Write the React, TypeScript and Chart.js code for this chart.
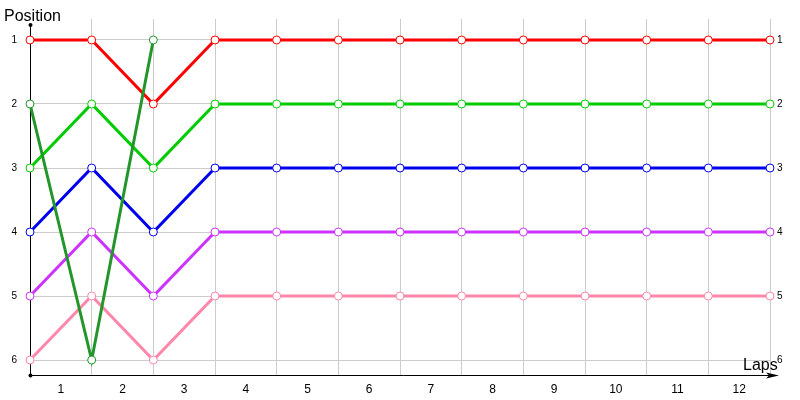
import React, { useRef, useEffect } from "react";
import { Chart, registerables } from "chart.js";

Chart.register(...registerables);

// lap boundaries where the positions are recorded (0 = start)
const laps = [0, 1, 2, 3, 4, 5, 6, 7, 8, 9, 10, 11, 12];
const lapLabels = ["1", "2", "3", "4", "5", "6", "7", "8", "9", "10", "11", "12"];
const positionTicks = [1, 2, 3, 4, 5, 6];

const redPos = [1, 1, 2, 1, 1, 1, 1, 1, 1, 1, 1, 1, 1];
const greenPos = [3, 2, 3, 2, 2, 2, 2, 2, 2, 2, 2, 2, 2];
const bluePos = [4, 3, 4, 3, 3, 3, 3, 3, 3, 3, 3, 3, 3];
const purplePos = [5, 4, 5, 4, 4, 4, 4, 4, 4, 4, 4, 4, 4];
const pinkPos = [6, 5, 6, 5, 5, 5, 5, 5, 5, 5, 5, 5, 5];
const darkGreenPos = [2, 6, 1];

const FONT = "'Liberation Sans', Arial, sans-serif";

const toPoints = (arr) => arr.map((y, i) => ({ x: laps[i], y }));

const line = (label, color, values) => ({
  label,
  data: toPoints(values),
  borderColor: color,
  borderWidth: 3,
  pointRadius: 4,
  pointHoverRadius: 4,
  pointBorderWidth: 1,
  pointBorderColor: color,
  pointBackgroundColor: "#ffffff",
  tension: 0,
  clip: false,
});

const axesPlugin = {
  id: "axesDecor",
  beforeDatasetsDraw(chart) {
    const { ctx, chartArea } = chart;
    const x0 = Math.round(chartArea.left) + 0.5;
    const y0 = Math.round(chartArea.bottom) + 0.5;
    ctx.save();
    ctx.strokeStyle = "#000";
    ctx.fillStyle = "#000";
    ctx.lineWidth = 1;
    ctx.beginPath();
    ctx.moveTo(x0, 25);
    ctx.lineTo(x0, y0);
    ctx.lineTo(776, y0);
    ctx.stroke();
    // arrow head
    ctx.beginPath();
    ctx.moveTo(779, y0);
    ctx.lineTo(766, y0 - 3);
    ctx.lineTo(769, y0);
    ctx.lineTo(766, y0 + 3);
    ctx.closePath();
    ctx.fill();
    ctx.beginPath();
    ctx.arc(x0, 25, 2, 0, Math.PI * 2);
    ctx.fill();
    ctx.beginPath();
    ctx.arc(x0, y0, 2, 0, Math.PI * 2);
    ctx.fill();
    ctx.restore();
  },
  afterDraw(chart) {
    const { ctx } = chart;
    ctx.save();
    ctx.fillStyle = "#000";
    ctx.font = `16px ${FONT}`;
    ctx.textBaseline = "alphabetic";
    ctx.fillText("Position", 4, 21);
    ctx.fillText("Laps", 743, 370);
    ctx.restore();
  },
};

const App = () => {
  const canvasRef = useRef(null);

  useEffect(() => {
    const chart = new Chart(canvasRef.current, {
      type: "line",
      data: {
        datasets: [
          line("Driver 6", "#22962a", darkGreenPos),
          line("Driver 1", "#ff0000", redPos),
          line("Driver 2", "#00cc00", greenPos),
          line("Driver 3", "#0000ee", bluePos),
          line("Driver 4", "#cc33ff", purplePos),
          line("Driver 5", "#ff88aa", pinkPos),
        ],
      },
      plugins: [axesPlugin],
      options: {
        responsive: false,
        animation: false,
        events: [],
        layout: { padding: { top: 19, left: 0, right: 0, bottom: 0 } },
        plugins: {
          legend: { display: false },
          tooltip: { enabled: false },
        },
        scales: {
          x: {
            type: "linear",
            min: 0,
            max: 12,
            afterBuildTicks: (scale) => {
              const t = [];
              for (let v = 0; v <= 12; v += 0.5) t.push({ value: v });
              scale.ticks = t;
            },
            afterFit: (scale) => {
              scale.height = 25;
            },
            ticks: {
              autoSkip: false,
              maxRotation: 0,
              padding: 7,
              color: "#000",
              font: { family: FONT, size: 12 },
              callback: (v) => (v % 1 === 0.5 ? lapLabels[Math.floor(v)] : ""),
            },
            grid: {
              drawTicks: false,
              color: (c) =>
                c.tick && c.tick.value % 1 === 0 && c.tick.value !== 0 ? "#cccccc" : "rgba(0,0,0,0)",
            },
            border: { display: false },
          },
          y: {
            type: "linear",
            reverse: true,
            min: 0.672,
            max: 6.234,
            afterBuildTicks: (scale) => {
              scale.ticks = positionTicks.map((v) => ({ value: v }));
            },
            afterFit: (scale) => {
              scale.width = 30;
            },
            ticks: {
              padding: 13,
              color: "#000",
              font: { family: FONT, size: 10 },
            },
            grid: { drawTicks: false, color: "#cccccc" },
            border: { display: false },
          },
          y2: {
            type: "linear",
            position: "right",
            reverse: true,
            min: 0.672,
            max: 6.234,
            afterBuildTicks: (scale) => {
              scale.ticks = positionTicks.map((v) => ({ value: v }));
            },
            afterFit: (scale) => {
              scale.width = 30;
            },
            ticks: {
              padding: 7,
              color: "#000",
              font: { family: FONT, size: 10 },
            },
            grid: { display: false, drawTicks: false },
            border: { display: false },
          },
        },
      },
    });
    return () => chart.destroy();
  }, []);

  return (
    <div style={{ position: "fixed", left: 0, top: 0, width: 800, height: 400, background: "#fff" }}>
      <canvas ref={canvasRef} width={800} height={400} />
    </div>
  );
};

export default App;
